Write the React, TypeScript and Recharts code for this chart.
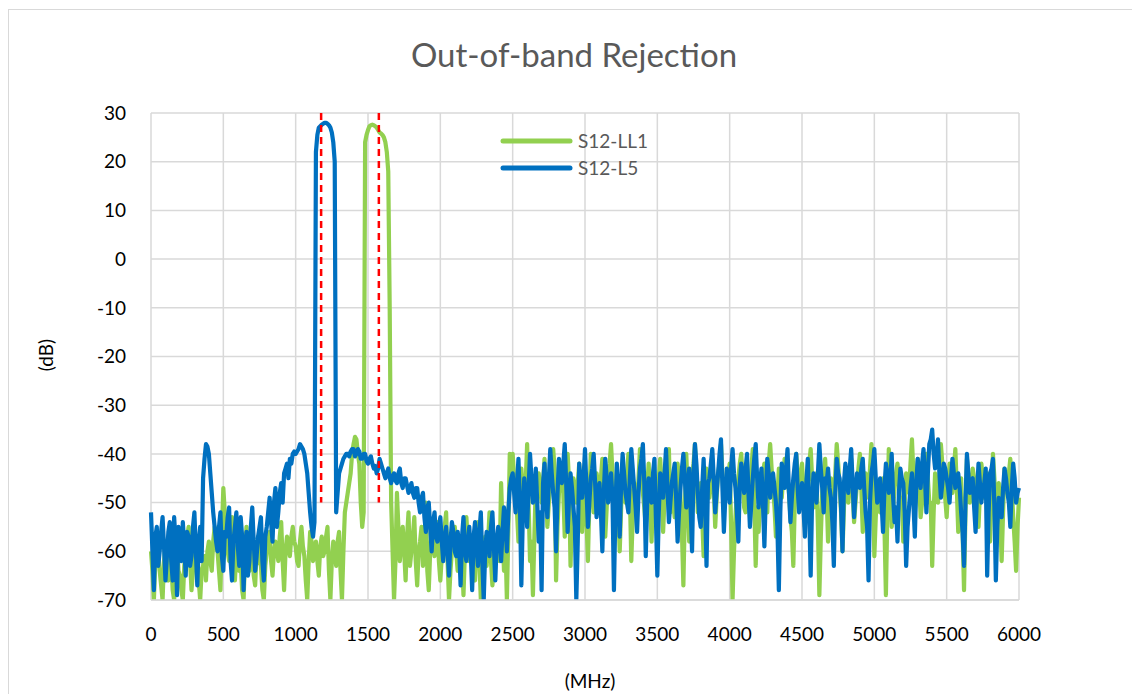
import { LineChart, Line, XAxis, YAxis, CartesianGrid, ReferenceLine } from 'recharts'

const xTicks = [0, 500, 1000, 1500, 2000, 2500, 3000, 3500, 4000, 4500, 5000, 5500, 6000]
const yTicks = [-70, -60, -50, -40, -30, -20, -10, 0, 10, 20, 30]

// band centres marked with red dashes (MHz)
const markers = [1176, 1575]
const markerTop = 30
const markerBottom = -50

// S12-L5 at 0, 20, 40 ... 6000 MHz (one row = 200 MHz)
const l5 = [
  -52, -68, -55, -60, -53, -66, -56, -62, -53, -69,
  -58, -54, -65, -57, -61, -52, -67, -55, -45, -38,
  -40, -48, -55, -60, -52, -64, -57, -51, -66, -55,
  -59, -53, -68, -56, -62, -51, -64, -57, -53, -66,
  -55, -49, -58, -47, -52, -46, -44, -42, -41, -40,
  -40, -39, -38.5, -40, -44, -52, -57, 22, 27, 27.6,
  28, 27.8, 27, 24, -52, -44, -42, -40.5, -40, -39.5,
  -39, -40, -39.5, -41, -40, -42, -40.5, -43, -44, -41,
  -43, -45, -43, -46, -44, -46, -43, -47, -45, -48,
  -46, -49, -47, -52, -48, -56, -50, -60, -52, -58,
  -53, -62, -55, -65, -54, -60, -56, -67, -53, -62,
  -55, -68, -54, -63, -52, -70, -56, -61, -52, -66,
  -55, -62, -51, -60, -47, -44, -52, -41, -67, -45,
  -55, -40, -50, -43, -58, -68, -42, -53, -39, -48,
  -60, -41, -46, -38, -56, -44, -51, -70, -42, -49,
  -39, -55, -45, -40, -53, -46, -60, -41, -50, -44,
  -68, -42, -57, -40, -48, -52, -39, -47, -56, -43,
  -38, -61, -45, -50, -41, -65, -44, -49, -39, -54,
  -46, -42, -58, -47, -40, -51, -43, -60, -38, -48,
  -55, -41, -63, -45, -39, -52, -44, -37, -56, -43,
  -50, -39, -47, -58, -42, -48, -40, -55, -45, -38,
  -51, -43, -59, -41, -49, -44, -50, -68, -42, -47,
  -39, -54, -45, -40, -52, -46, -57, -41, -65, -44,
  -50, -38, -47, -45, -43, -49, -63, -41, -45, -60,
  -42, -48, -39, -53, -44, -47, -41, -52, -66, -44,
  -39, -50, -45, -56, -42, -48, -40, -54, -58, -43,
  -46, -63, -51, -44, -57, -41, -47, -39, -52, -38,
  -35, -43, -37, -49, -42, -45, -50, -41, -47, -44,
  -52, -63, -40, -48, -45, -56, -42, -50, -46, -65,
  -44, -41, -66, -49, -53, -43, -48, -55, -42, -50,
  -47,
]

// S12-L5 at 10, 30, 50 ... 5990 MHz
const l5Mid = [
  -60, -57, -63, -56, -59, -61, -54, -66, -58, -55,
  -62, -59, -56, -63, -55, -60, -58, -62, -41, -38.5,
  -44, -52, -58, -55, -61, -56, -53, -62, -58, -52,
  -63, -57, -60, -65, -55, -58, -61, -55, -62, -57,
  -52, -54, -50, -55, -48, -50, -43, -45, -42, -39.5,
  -39.5, -38, -39, -42, -48, -55, -54, 25.5, 27.3, 27.8,
  28, 27.5, 26, 20, -48, -43, -41, -40, -40.5, -39,
  -40.5, -39, -41, -40, -41.5, -41, -42, -42.5, -43, -42,
  -44, -44, -45, -44.5, -45.5, -44, -46, -45, -46.5, -47,
  -48, -47, -50, -49, -53, -51, -55, -54, -57, -55,
  -58, -57, -60, -58, -56, -61, -59, -57, -60, -58,
  -60, -57, -59, -56, -62, -60, -57, -55, -59, -58,
  -57, -56, -54, -52, -45, -48, -46, -50, -53, -49,
  -47, -45, -48, -50, -52, -46, -49, -45, -44, -51,
  -48, -44, -42, -46, -49, -47, -55, -58, -46, -45,
  -47, -50, -43, -46, -49, -52, -48, -45, -47, -49,
  -52, -48, -46, -44, -50, -45, -43, -51, -48, -41,
  -46, -50, -48, -44, -53, -52, -46, -44, -47, -50,
  -44, -49, -52, -43, -45, -47, -51, -44, -42, -53,
  -47, -50, -46, -42, -45, -48, -40, -47, -49, -46,
  -43, -44, -52, -46, -45, -43, -48, -50, -41, -45,
  -46, -50, -48, -44, -46, -47, -55, -52, -44, -43,
  -48, -49, -42, -47, -49, -51, -46, -52, -49, -47,
  -44, -43, -52, -46, -47, -54, -48, -44, -51, -46,
  -45, -43, -46, -48, -45, -43, -47, -55, -50, -42,
  -45, -48, -50, -47, -44, -46, -49, -51, -48, -45,
  -52, -55, -47, -50, -46, -44, -42, -45, -44, -37,
  -40, -41, -44, -46, -43, -47, -45, -44, -46, -47,
  -56, -50, -44, -46, -51, -48, -46, -47, -43, -52,
  -43, -51, -55, -50, -47, -45, -50, -47, -45, -48,
]

// S12-LL1 at 0, 20, 40 ... 6000 MHz
const ll1 = [
  -60, -70, -56, -64, -70, -58, -66, -62, -70, -57,
  -65, -70, -60, -55, -68, -62, -59, -70, -63, -66,
  -58, -64, -55, -60, -68, -47, -56, -62, -53, -66,
  -58, -62, -70, -55, -64, -59, -67, -57, -63, -70,
  -60, -56, -65, -58, -62, -54, -68, -57, -61, -55,
  -59, -63, -55, -61, -70, -56, -62, -58, -65, -57,
  -60, -55, -70, -58, -63, -56, -70, -52, -48, -44,
  -38, -37, -42, -55, 24, 26.5, 27.5, 27.5, 27, 26,
  25.5, 24, 18, -50, -70, -48, -62, -55, -66, -52,
  -60, -53, -67, -58, -63, -50, -68, -56, -61, -54,
  -66, -58, -52, -70, -60, -55, -64, -57, -69, -53,
  -62, -57, -66, -54, -70, -59, -63, -52, -67, -60,
  -56, -46, -64, -70, -40, -40, -48, -58, -43, -52,
  -38, -62, -69, -46, -44, -50, -41, -55, -46, -39,
  -66, -48, -43, -57, -40, -63, -45, -50, -42, -56,
  -47, -62, -40, -52, -44, -49, -41, -57, -45, -38,
  -53, -47, -60, -43, -50, -40, -62, -46, -52, -39,
  -48, -55, -42, -58, -45, -50, -41, -56, -44, -39,
  -47, -53, -42, -49, -67, -40, -58, -45, -38, -52,
  -46, -61, -43, -49, -41, -55, -44, -38, -50, -47,
  -42, -70, -53, -45, -40, -51, -44, -48, -39, -63,
  -56, -46, -42, -52, -38, -47, -57, -43, -49, -41,
  -45, -53, -63, -40, -48, -42, -55, -46, -39, -51,
  -44, -69, -48, -41, -58, -45, -52, -38, -47, -60,
  -43, -50, -41, -54, -46, -40, -56, -44, -49, -38,
  -61, -47, -52, -45, -69, -39, -55, -47, -42, -51,
  -58, -44, -48, -37, -52, -41, -53, -46, -40, -50,
  -63, -44, -50, -38, -45, -53, -42, -48, -39, -56,
  -45, -68, -41, -50, -43, -47, -55, -42, -49, -44,
  -58, -40, -51, -46, -62, -43, -48, -41, -53, -64,
  -49,
]

// S12-LL1 at 10, 30, 50 ... 5990 MHz
const ll1Mid = [
  -64, -62, -60, -67, -62, -63, -58, -68, -61, -64,
  -68, -63, -57, -62, -64, -57, -66, -64, -61, -60,
  -62, -58, -59, -64, -56, -52, -60, -57, -61, -60,
  -64, -68, -61, -60, -58, -65, -60, -62, -68, -63,
  -58, -62, -60, -60, -57, -62, -60, -59, -57, -58,
  -62, -58, -59, -66, -62, -58, -60, -62, -59, -61,
  -57, -64, -62, -60, -58, -64, -60, -50, -46, -40,
  -36.5, -40, -50, -52, 25.5, 27.3, 27.6, 27.3, 26.5, 25.8,
  25, 22, -10, -60, -62, -55, -58, -60, -57, -63,
  -57, -62, -60, -55, -59, -64, -60, -58, -57, -62,
  -61, -55, -62, -64, -57, -60, -62, -61, -60, -58,
  -60, -64, -58, -62, -64, -57, -58, -62, -63, -58,
  -62, -55, -58, -56, -44, -45, -52, -49, -47, -46,
  -50, -58, -57, -45, -47, -46, -47, -50, -44, -43,
  -55, -46, -48, -50, -46, -52, -47, -46, -48, -51,
  -53, -50, -45, -47, -46, -45, -48, -51, -42, -44,
  -49, -52, -51, -46, -45, -48, -53, -49, -45, -44,
  -51, -47, -49, -50, -48, -45, -47, -49, -42, -52,
  -50, -46, -45, -56, -52, -48, -50, -42, -44, -49,
  -53, -51, -46, -45, -47, -49, -42, -44, -48, -45,
  -55, -60, -48, -42, -45, -52, -46, -43, -50, -51,
  -50, -44, -47, -42, -43, -51, -49, -46, -45, -44,
  -48, -56, -50, -44, -45, -47, -50, -42, -45, -47,
  -55, -57, -44, -48, -50, -48, -44, -42, -52, -51,
  -46, -45, -48, -50, -43, -47, -50, -46, -43, -45,
  -53, -50, -49, -55, -52, -46, -51, -44, -46, -49,
  -50, -46, -42, -44, -47, -46, -50, -43, -45, -50,
  -52, -47, -45, -42, -49, -47, -45, -43, -47, -50,
  -56, -52, -45, -46, -45, -51, -48, -45, -46, -50,
  -48, -45, -48, -53, -52, -45, -44, -47, -58, -55,
]

// 10 MHz sweep: even points from the main arrays, odd ones from the *Mid arrays
const data = l5.flatMap((v, i) => {
  const rows = [{ f: i * 20, ll1: ll1[i], l5: v }]
  if (i < l5Mid.length) rows.push({ f: i * 20 + 10, ll1: ll1Mid[i], l5: l5Mid[i] })
  return rows
})

const font = 'Lato, "Open Sans", sans-serif'

const legendItems = [
  { name: 'S12-LL1', color: '#92d050' },
  { name: 'S12-L5', color: '#0070c0' },
]

export default function App() {
  return (
    <div
      style={{
        position: 'fixed',
        left: 8,
        top: 9,
        width: 1124,
        height: 685,
        boxSizing: 'border-box',
        borderTop: '1px solid #d9d9d9',
        borderLeft: '1px solid #d9d9d9',
        background: '#fff',
        fontFamily: font,
      }}
    >
      <div
        style={{
          position: 'absolute',
          left: 565,
          top: 28,
          transform: 'translateX(-50%)',
          fontSize: 33,
          lineHeight: '33px',
          color: '#595959',
          whiteSpace: 'nowrap',
        }}
      >
        Out-of-band Rejection
      </div>
      <div
        style={{
          position: 'absolute',
          left: 36,
          top: 345,
          transform: 'translate(-50%, -50%) rotate(-90deg)',
          fontSize: 19,
          color: '#000',
          whiteSpace: 'nowrap',
        }}
      >
        (dB)
      </div>
      <div
        style={{
          position: 'absolute',
          left: 581,
          top: 670,
          transform: 'translate(-50%, -50%)',
          fontSize: 19,
          color: '#000',
          whiteSpace: 'nowrap',
        }}
      >
        (MHz)
      </div>
      <LineChart
        width={1123}
        height={684}
        data={data}
        margin={{ top: 103, right: 113, bottom: 64, left: 82 }}
      >
        <CartesianGrid stroke='#d9d9d9' strokeWidth={1.5} />
        <XAxis
          dataKey='f'
          type='number'
          domain={[0, 6000]}
          ticks={xTicks}
          interval={0}
          tickLine={false}
          tickSize={0}
          tickMargin={28}
          axisLine={{ stroke: '#d9d9d9', strokeWidth: 1.5 }}
          tick={{ fill: '#000', fontSize: 19, fontFamily: font }}
          height={30}
        />
        <YAxis
          type='number'
          domain={[-70, 30]}
          ticks={yTicks}
          interval={0}
          allowDataOverflow
          tickLine={false}
          tickSize={0}
          tickMargin={25}
          axisLine={false}
          tick={{ fill: '#000', fontSize: 19, fontFamily: font }}
          width={60}
        />
        <Line
          type='linear'
          dataKey='ll1'
          name='S12-LL1'
          stroke='#92d050'
          strokeWidth={4.2}
          strokeLinejoin='round'
          dot={false}
          isAnimationActive={false}
        />
        <Line
          type='linear'
          dataKey='l5'
          name='S12-L5'
          stroke='#0070c0'
          strokeWidth={4.2}
          strokeLinejoin='round'
          dot={false}
          isAnimationActive={false}
        />
        {markers.map((m) => (
          <ReferenceLine
            key={m}
            segment={[
              { x: m, y: markerTop },
              { x: m, y: markerBottom },
            ]}
            stroke='#ff0000'
            strokeWidth={2.5}
            strokeDasharray='7 5'
          />
        ))}
      </LineChart>
      <div style={{ position: 'absolute', left: 491, top: 117 }}>
        {legendItems.map((it) => (
          <div key={it.name} style={{ display: 'flex', alignItems: 'center', height: 27 }}>
            <svg width={78} height={10}>
              <line x1={3} y1={5} x2={70} y2={5} stroke={it.color} strokeWidth={5} strokeLinecap='round' />
            </svg>
            <span style={{ fontSize: 19, color: '#595959' }}>{it.name}</span>
          </div>
        ))}
      </div>
    </div>
  )
}
